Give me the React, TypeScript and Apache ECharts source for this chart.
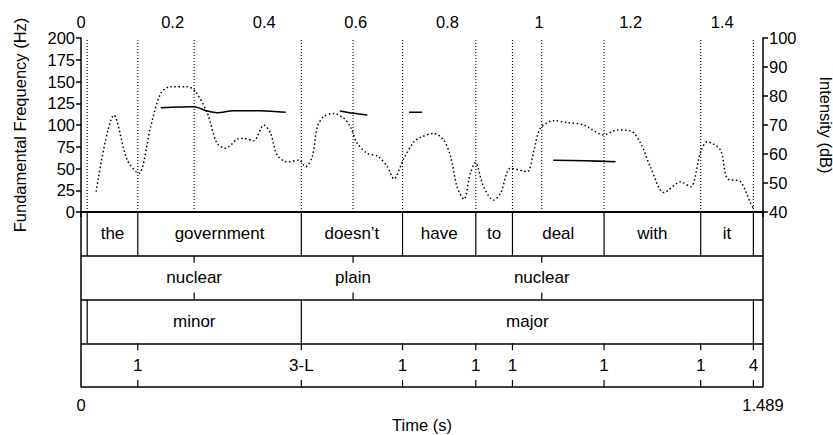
import React, { useEffect, useRef } from "react";
import * as echarts from "echarts";

// ---- data ----
const T_MAX = 1.489;
const topTicks = { min: 0, interval: 0.2 };
const hzTicks = { min: 0, max: 200, interval: 25 };
const dbTicks = { min: 40, max: 100, interval: 10 };

// Intensity (dB) contour: [time s, dB]
const intensity: [number, number][] = [
  [0.033, 47.0], [0.072, 73.4], [0.101, 57.9], [0.126, 53.3], [0.152, 69.4],
  [0.174, 80.9], [0.195, 83.2], [0.232, 83.2], [0.25, 81.5], [0.276, 74.0],
  [0.297, 63.7], [0.316, 62.0], [0.341, 65.1], [0.355, 65.4], [0.377, 64.6],
  [0.399, 70.0], [0.414, 67.1], [0.428, 59.7], [0.45, 57.3], [0.476, 57.9],
  [0.49, 55.6], [0.505, 59.1], [0.516, 69.4], [0.53, 72.9], [0.552, 74.0],
  [0.574, 72.3], [0.588, 69.4], [0.603, 63.7], [0.625, 60.2], [0.647, 59.3],
  [0.669, 55.6], [0.683, 51.4], [0.705, 58.5], [0.727, 64.2], [0.741, 65.7],
  [0.77, 67.1], [0.792, 64.8], [0.807, 59.1], [0.821, 48.7], [0.836, 44.4],
  [0.85, 53.3], [0.861, 57.1], [0.879, 48.7], [0.901, 44.1], [0.916, 46.4],
  [0.938, 55.1], [0.974, 53.9], [0.989, 61.4], [1.003, 68.9], [1.032, 71.5],
  [1.062, 70.8], [1.098, 70.0], [1.141, 66.6], [1.171, 68.3], [1.2, 68.0],
  [1.222, 63.7], [1.243, 55.6], [1.273, 46.7], [1.309, 50.4], [1.331, 48.7],
  [1.353, 60.8], [1.367, 64.2], [1.396, 61.4], [1.411, 51.6], [1.44, 50.4],
  [1.462, 43.0], [1.468, 41.3],
];

// Pitch (Hz) voiced segments
const pitchSegments: [number, number][][] = [
  [[0.174, 119.9], [0.246, 121.0], [0.276, 116.1], [0.297, 114.1], [0.334, 116.4], [0.392, 116.4], [0.447, 114.6]],
  [[0.565, 116.1], [0.595, 113.5], [0.625, 111.5]],
  [[0.716, 114.6], [0.745, 114.6]],
  [[1.031, 59.4], [1.1, 58.9], [1.167, 57.8]],
];

// Tier 1 (words): interval tier
const wordBounds = [0.0135, 0.124, 0.481, 0.702, 0.862, 0.942, 1.142, 1.353, 1.468];
const wordLabels = ["the", "government", "doesn\u2019t", "have", "to", "deal", "with", "it"];
// Tier 2: point tier
const accentTimes = [0.247, 0.594, 1.006];
const accentLabels = ["nuclear", "plain", "nuclear"];
// Tier 3: interval tier
const phraseBounds = [0.0135, 0.481, 1.468];
const phraseLabels = ["minor", "major"];
// Tier 4: point tier (break indices)
const breakTimes = [0.124, 0.481, 0.702, 0.862, 0.942, 1.142, 1.353, 1.468];
const breakLabels = ["1", "3-L", "1", "1", "1", "1", "1", "4"];

const FONT = "'Liberation Sans', Arial, Helvetica, sans-serif";

export default function App() {
  const ref = useRef<HTMLDivElement>(null);
  useEffect(() => {
    if (!ref.current) return;
    const chart = echarts.init(ref.current, undefined, { renderer: "svg" });

    const intervalLines: [number, number][] = [];
    wordBounds.forEach((t) => intervalLines.push([t, 0]));
    phraseBounds.forEach((t) => intervalLines.push([t, 2]));
    const pointMarks: [number, number][] = [];
    accentTimes.forEach((t) => pointMarks.push([t, 1]));
    breakTimes.forEach((t) => pointMarks.push([t, 3]));

    const labelItems: { t: number; tier: number; text: string }[] = [];
    wordLabels.forEach((w, i) => labelItems.push({ t: (wordBounds[i] + wordBounds[i + 1]) / 2, tier: 0, text: w }));
    accentLabels.forEach((w, i) => labelItems.push({ t: accentTimes[i], tier: 1, text: w }));
    phraseLabels.forEach((w, i) => labelItems.push({ t: (phraseBounds[i] + phraseBounds[i + 1]) / 2, tier: 2, text: w }));
    breakLabels.forEach((w, i) => labelItems.push({ t: breakTimes[i], tier: 3, text: w }));

    const allTimes = Array.from(
      new Set([...wordBounds, ...accentTimes, ...phraseBounds, ...breakTimes])
    ).sort((a, b) => a - b);

    const axisLine = { show: true, lineStyle: { color: "#000", width: 1.5 } };
    const labelStyle = { color: "#000", fontSize: 16.5, fontFamily: FONT };

    const option: any = {
      animation: false,
      grid: [
        { left: 81, top: 38, width: 682, height: 174, containLabel: false, outerBoundsMode: "none" },
        { left: 81, top: 212, width: 682, height: 175, containLabel: false, outerBoundsMode: "none" },
      ],
      xAxis: [
        {
          type: "value", gridIndex: 0, position: "top",
          min: topTicks.min, max: T_MAX, interval: topTicks.interval,
          axisLine, axisTick: { show: false }, splitLine: { show: false },
          axisLabel: { ...labelStyle, margin: 8, showMaxLabel: false },
        },
        {
          type: "value", gridIndex: 1, position: "bottom",
          min: 0, max: T_MAX, interval: T_MAX,
          axisLine, axisTick: { show: true, length: 5, lineStyle: { color: "#000", width: 1.5 } },
          splitLine: { show: false },
          axisLabel: { ...labelStyle, margin: 9, showMinLabel: true, showMaxLabel: true,
            formatter: (v: number) => (v === 0 ? "0" : String(T_MAX)) },
          name: "Time (s)", nameLocation: "middle", nameGap: 29,
          nameTextStyle: labelStyle,
        },
      ],
      yAxis: [
        {
          type: "value", gridIndex: 0, position: "left",
          min: hzTicks.min, max: hzTicks.max, interval: hzTicks.interval,
          axisLine, axisTick: { show: true, length: 5, lineStyle: { color: "#000", width: 1.5 } },
          splitLine: { show: false },
          axisLabel: { ...labelStyle, margin: 6 },
          name: "Fundamental Frequency (Hz)", nameLocation: "middle", nameGap: 53,
          nameTextStyle: labelStyle,
        },
        {
          type: "value", gridIndex: 0, position: "right",
          min: dbTicks.min, max: dbTicks.max, interval: dbTicks.interval,
          axisLine, axisTick: { show: true, length: 5, lineStyle: { color: "#000", width: 1.5 } },
          splitLine: { show: false },
          axisLabel: { ...labelStyle, margin: 6 },
          name: "Intensity (dB)", nameLocation: "middle", nameGap: 54, nameRotate: -90,
          nameTextStyle: labelStyle,
        },
        {
          type: "value", gridIndex: 1, position: "left", inverse: true,
          min: 0, max: 4, interval: 1,
          axisLine, axisTick: { show: false }, axisLabel: { show: false },
          splitLine: { show: true, lineStyle: { color: "#000", width: 1.5 } },
        },
        {
          type: "value", gridIndex: 1, position: "right", inverse: true,
          min: 0, max: 4, interval: 1,
          axisLine, axisTick: { show: false }, axisLabel: { show: false },
          splitLine: { show: false },
        },
      ],
      series: [
        {
          type: "custom", xAxisIndex: 0, yAxisIndex: 0, silent: true,
          data: allTimes.map((t) => [t, 0]),
          renderItem: (params: any, api: any) => {
            const t = api.value(0);
            const p1 = api.coord([t, hzTicks.min]);
            const p2 = api.coord([t, hzTicks.max]);
            return {
              type: "line",
              shape: { x1: p1[0], y1: p1[1], x2: p2[0], y2: p2[1] },
              style: { stroke: "#000", lineWidth: 1.1, lineDash: [1, 2] },
            };
          },
        },
        {
          type: "line", xAxisIndex: 0, yAxisIndex: 1, data: intensity,
          showSymbol: false, smooth: 0.3,
          lineStyle: { color: "#000", width: 1.5, type: [1.5, 2.5] },
          silent: true,
        },
        ...pitchSegments.map((seg) => ({
          type: "line", xAxisIndex: 0, yAxisIndex: 0, data: seg,
          showSymbol: false, smooth: 0.3,
          lineStyle: { color: "#000", width: 1.6 }, silent: true,
        })),
        {
          type: "custom", xAxisIndex: 1, yAxisIndex: 2, silent: true,
          data: intervalLines,
          renderItem: (params: any, api: any) => {
            const t = api.value(0);
            const tier = api.value(1);
            const p1 = api.coord([t, tier]);
            const p2 = api.coord([t, tier + 1]);
            return {
              type: "line",
              shape: { x1: p1[0], y1: p1[1], x2: p2[0], y2: p2[1] },
              style: { stroke: "#000", lineWidth: 1.2 },
            };
          },
        },
        {
          type: "custom", xAxisIndex: 1, yAxisIndex: 2, silent: true,
          data: pointMarks,
          renderItem: (params: any, api: any) => {
            const t = api.value(0);
            const tier = api.value(1);
            const p1 = api.coord([t, tier]);
            const p2 = api.coord([t, tier + 1]);
            const len = 7;
            return {
              type: "group",
              children: [
                { type: "line", shape: { x1: p1[0], y1: p1[1], x2: p1[0], y2: p1[1] + len }, style: { stroke: "#000", lineWidth: 1.2 } },
                { type: "line", shape: { x1: p2[0], y1: p2[1] - len, x2: p2[0], y2: p2[1] }, style: { stroke: "#000", lineWidth: 1.2 } },
              ],
            };
          },
        },
        {
          type: "custom", xAxisIndex: 1, yAxisIndex: 2, silent: true,
          data: labelItems.map((d) => [d.t, d.tier]),
          renderItem: (params: any, api: any) => {
            const item = labelItems[params.dataIndex];
            const p = api.coord([item.t, item.tier + 0.5]);
            return {
              type: "text",
              x: p[0], y: p[1],
              style: {
                text: item.text, fill: "#000", fontSize: 17, fontFamily: FONT,
                align: "center", verticalAlign: "middle",
              },
            };
          },
        },
      ],
    };
    chart.setOption(option);
    return () => chart.dispose();
  }, []);
  return (
    <div
      ref={ref}
      style={{ position: "fixed", left: 0, top: 0, width: 833, height: 435, background: "#fff" }}
    />
  );
}
